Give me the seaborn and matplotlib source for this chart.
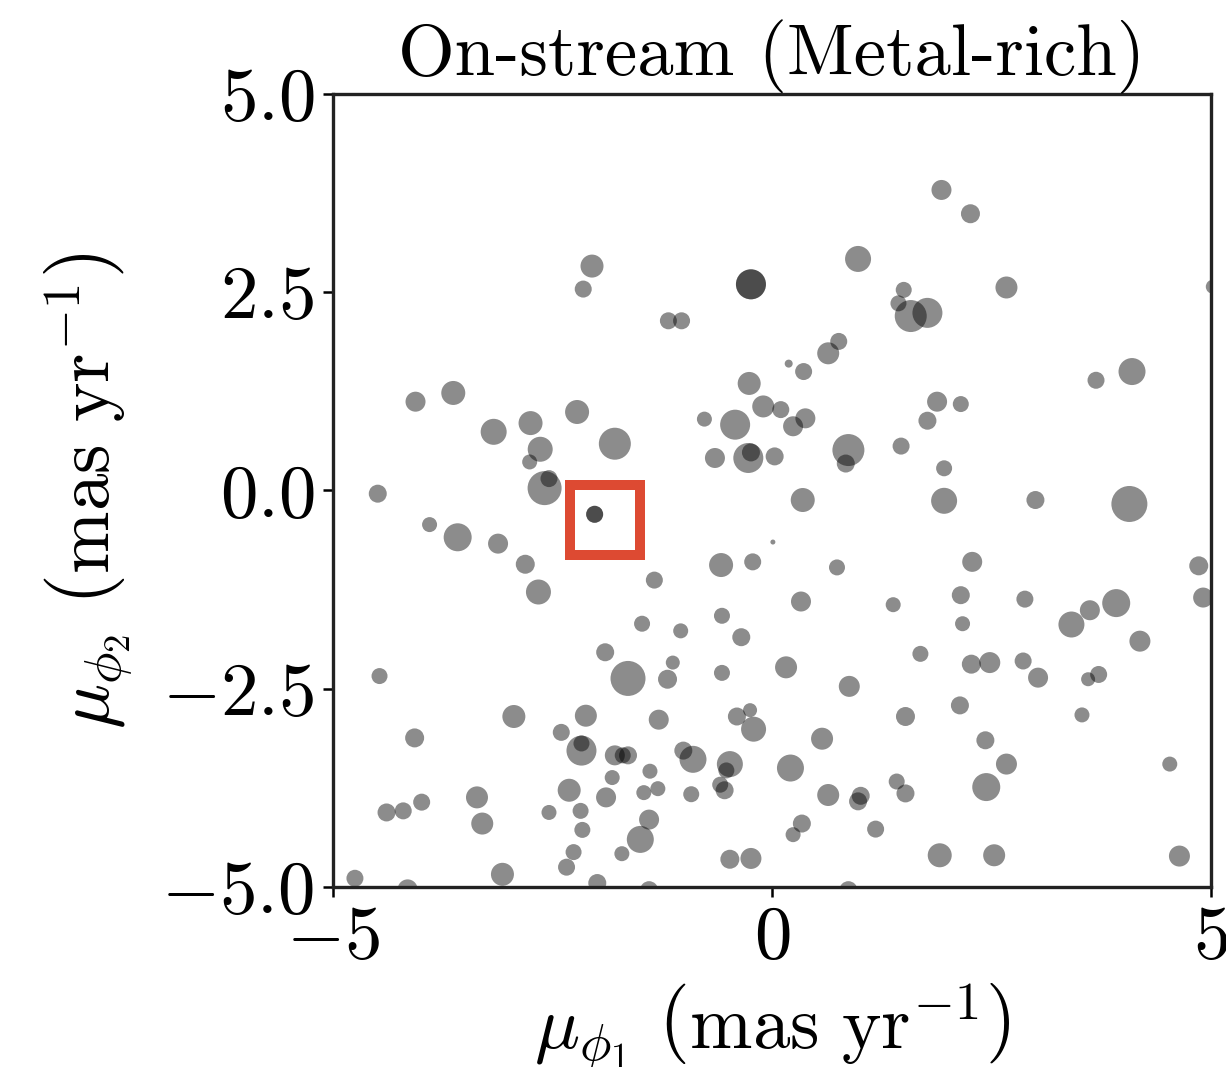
import numpy as np
import pandas as pd
import matplotlib
matplotlib.use("Agg")
import matplotlib.pyplot as plt
import seaborn as sns

# ---------------- data ----------------
pm_phi1 = [
    -2.05, -2.15, -0.24, -0.24, -1.18, -1.03, 1.93, 2.26, 0.98, 1.50,
    1.44, 1.58, 1.77, 2.67, 0.76, 0.64, 0.19, 0.36, 4.10, 3.69,
    5.02, -4.06, -3.63, -3.17, -2.75, -2.22, -2.64, -2.76, -1.79, -2.59,
    -2.54, -4.49, -3.90, -3.58, -3.12, -2.81, -2.66, -2.02, -2.02, -1.34,
    -1.48, -1.04, -0.57, -0.35, -0.58, -0.22, 0.01, -0.77, -0.42, -0.26,
    -0.10, -0.65, -0.27, -0.24, 0.03, 0.10, 0.38, 0.24, 0.87, 0.84,
    1.47, 1.88, 2.15, 1.77, 1.96, 0.35, 1.96, 3.00, 4.07, 0.74,
    2.28, 4.86, 4.91, 0.33, 1.38, 2.15, 2.17, 2.88, 3.41, 3.62,
    3.92, 4.19, -4.47, -4.07, -1.90, -1.64, -1.13, -1.19, -0.57, -2.94,
    -2.12, -2.40, -2.17, -2.17, -1.79, -1.64, -1.70, -1.29, -0.40, -0.25,
    -0.21, -1.01, -0.90, -0.48, -0.52, -0.59, -0.54, -1.39, -1.82, -1.46,
    -1.30, -0.92, -1.89, -2.31, -2.18, -2.54, -2.16, -1.40, -1.50, -1.71,
    -2.26, -2.34, -0.48, -0.24, -3.36, -3.30, -4.39, -4.20, -3.99, -4.75,
    -4.15, -3.07, -1.99, -1.40, 0.16, 1.69, 2.27, 2.48, 2.86, 3.03,
    3.60, 3.72, 0.88, 2.14, 1.52, 3.53, 0.57, 2.43, 0.21, 2.67,
    4.53, 0.64, 1.01, 0.98, 1.42, 1.52, 2.44, 0.34, 0.24, 1.18,
    1.91, 2.53, 4.64, 0.87,
]
pm_phi2 = [
    2.83, 2.54, 2.60, 2.60, 2.14, 2.14, 3.79, 3.49, 2.92, 2.53,
    2.36, 2.20, 2.24, 2.56, 1.88, 1.73, 1.60, 1.50, 1.50, 1.39,
    2.57, 1.12, 1.23, 0.74, 0.85, 0.99, 0.52, 0.36, 0.59, 0.03,
    0.15, -0.04, -0.43, -0.59, -0.67, -0.93, -1.28, -0.30, -0.30, -1.13,
    -1.68, -1.77, -1.58, -1.85, -0.94, -0.90, -0.65, 0.90, 0.83, 1.35,
    1.06, 0.41, 0.41, 0.48, 0.43, 1.02, 0.91, 0.81, 0.51, 0.34,
    0.56, 1.12, 1.09, 0.88, 0.28, -0.12, -0.13, -0.12, -0.17, -0.97,
    -0.90, -0.95, -1.35, -1.40, -1.44, -1.32, -1.68, -1.37, -1.69, -1.51,
    -1.42, -1.90, -2.34, -3.12, -2.04, -2.37, -2.17, -2.38, -2.30, -2.85,
    -2.84, -3.05, -3.28, -3.19, -3.34, -3.34, -3.34, -2.89, -2.85, -2.77,
    -3.01, -3.28, -3.39, -3.45, -3.53, -3.71, -3.78, -3.54, -3.62, -3.81,
    -3.76, -3.83, -3.87, -3.78, -4.04, -4.06, -4.28, -4.15, -4.40, -4.58,
    -4.56, -4.75, -4.65, -4.64, -3.87, -4.20, -4.06, -4.04, -3.93, -4.89,
    -5.03, -4.84, -4.95, -5.04, -2.23, -2.06, -2.19, -2.17, -2.15, -2.36,
    -2.38, -2.32, -2.47, -2.71, -2.85, -2.83, -3.13, -3.15, -3.50, -3.45,
    -3.45, -3.84, -3.85, -3.92, -3.67, -3.82, -3.74, -4.20, -4.34, -4.27,
    -4.60, -4.60, -4.61, -5.04,
]
# relative marker weight (proportional to marker diameter)
weight = [
    23, 17, 30, 30, 17, 17, 20, 19, 26, 16,
    16, 32, 30, 22, 17, 22, 8, 17, 27, 17,
    14, 20, 24, 26, 24, 24, 25, 15, 32, 34,
    17, 18, 15, 28, 20, 19, 25, 17, 17, 17,
    16, 15, 16, 18, 24, 17, 5, 15, 30, 23,
    22, 20, 30, 18, 18, 17, 20, 20, 32, 18,
    17, 20, 16, 18, 16, 24, 26, 18, 36, 16,
    20, 19, 20, 20, 15, 18, 15, 17, 26, 20,
    28, 21, 16, 19, 18, 35, 14, 19, 16, 23,
    22, 17, 30, 16, 20, 18, 16, 20, 18, 14,
    25, 18, 27, 26, 16, 16, 18, 15, 15, 15,
    15, 16, 20, 23, 16, 15, 16, 20, 27, 15,
    16, 17, 19, 21, 22, 22, 18, 17, 17, 17,
    20, 23, 18, 18, 22, 16, 19, 21, 17, 20,
    14, 17, 21, 18, 19, 15, 22, 18, 27, 21,
    15, 22, 18, 18, 16, 18, 28, 18, 15, 17,
    24, 22, 21, 18,
]

highlight_phi1 = [-1.90]
highlight_phi2 = [-0.37]

title_text = "On-stream (Metal-rich)"
xlabel_text = r"$\mu_{\phi_1}\ \left(\mathrm{mas\ yr}^{-1}\right)$"
ylabel_text = r"$\mu_{\phi_2}\ \left(\mathrm{mas\ yr}^{-1}\right)$"
xticks = [-5, 0, 5]
yticks = [-5.0, -2.5, 0.0, 2.5, 5.0]

# ---------------- style ----------------
sns.set_style("ticks")
plt.rcParams.update({
    "font.family": "serif",
    "font.serif": ["cmr10"],
    "mathtext.fontset": "cm",
    "axes.formatter.use_mathtext": True,
    "axes.unicode_minus": True,
    "axes.edgecolor": "#222222",
    "axes.linewidth": 0.8,
    "text.color": "black",
    "axes.labelcolor": "black",
    "xtick.color": "black",
    "ytick.color": "black",
    "xtick.labelcolor": "black",
    "ytick.labelcolor": "black",
})

df = pd.DataFrame({"x": pm_phi1, "y": pm_phi2, "w": weight})
df["area"] = (0.24 * df["w"]) ** 2
amin, amax = df["area"].min(), df["area"].max()

fig = plt.figure(figsize=(1226 / 300, 1067 / 300), dpi=300)
ax = fig.add_axes([0.2716, 0.1687, 0.7162, 0.7432])

sns.scatterplot(data=df, x="x", y="y", size="area", sizes=(amin, amax),
                size_norm=(amin, amax), color="black", alpha=0.45,
                linewidth=0, legend=False, ax=ax)

ax.plot(highlight_phi1, highlight_phi2, ls="none", marker="s", ms=17,
        mfc="none", mec="#dd4a32", mew=2.4, zorder=5)

ax.set_xlim(-5, 5)
ax.set_ylim(-5, 5)
ax.set_xticks(xticks)
ax.set_yticks(yticks)
for s in ax.spines.values():
    s.set_visible(True)
    s.set_linewidth(0.8)
ax.tick_params(axis="both", which="major", labelsize=18, length=2.5,
               width=0.6, direction="out", pad=2, colors="black")
ax.set_xlabel(xlabel_text, fontsize=18, labelpad=2, color="black")
ax.set_ylabel(ylabel_text, fontsize=18, labelpad=6, color="black")
ax.set_title(title_text, fontsize=17.5, pad=-1, color="black")

fig.savefig("out.png", dpi=300)
